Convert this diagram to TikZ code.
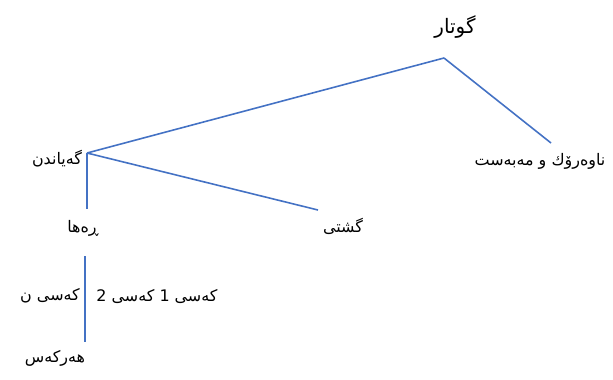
\documentclass[tikz,border=0pt]{standalone}
\usepackage{fontspec}
\usepackage{xcolor}
\usepackage{tikz}
\usetikzlibrary{positioning}
\newfontfamily\arabicfont[Script=Arabic]{DejaVu Sans}
\TeXXeTstate=1
\definecolor{linkblue}{RGB}{68,114,196}
\newcommand{\rtl}[1]{\arabicfont\beginR #1\endR}

\begin{document}
\begin{tikzpicture}[
  x=1bp, y=-1bp,
  font=\fontsize{16}{18}\selectfont,
  word/.style={inner sep=2pt, text=black},
  link/.style={draw=linkblue, line width=1.6pt}
]
\useasboundingbox (0,0) rectangle (613,379);
\node[word, font=\fontsize{20}{22}\selectfont] (gotar) at (455,27) {\rtl{گوتار}};
\node[word] (gayandn) at (57,159) {\rtl{گەیاندن}};
\node[word] (nawarok) at (540,161) {\rtl{ناوەرۆك و مەبەست}};
\node[word] (gishti) at (343,226) {\rtl{گشتی}};
\node[word] (raha) at (83,228) {\rtl{ڕەها}};
\node[word] (kasi12) at (157,296) {\rtl{کەسی 1 کەسی 2}};
\node[word] (kasin) at (50,296) {\rtl{کەسی ن}};
\node[word] (harkas) at (55,358) {\rtl{هەرکەس}};
% junction points of the tree
\coordinate (top) at (444,58);
\coordinate (hub) at (87,153);
\coordinate (nawtop) at (551,143);
\coordinate (gishend) at (318,210);
\coordinate (rahatop) at (87,209);
\coordinate (rahabot) at (85,256);
\coordinate (harktop) at (85,342);
\draw[link] (top) -- (hub);
\draw[link] (top) -- (nawtop);
\draw[link] (hub) -- (gishend);
\draw[link] (hub) -- (rahatop);
\draw[link] (rahabot) -- (harktop);
\end{tikzpicture}
\end{document}
